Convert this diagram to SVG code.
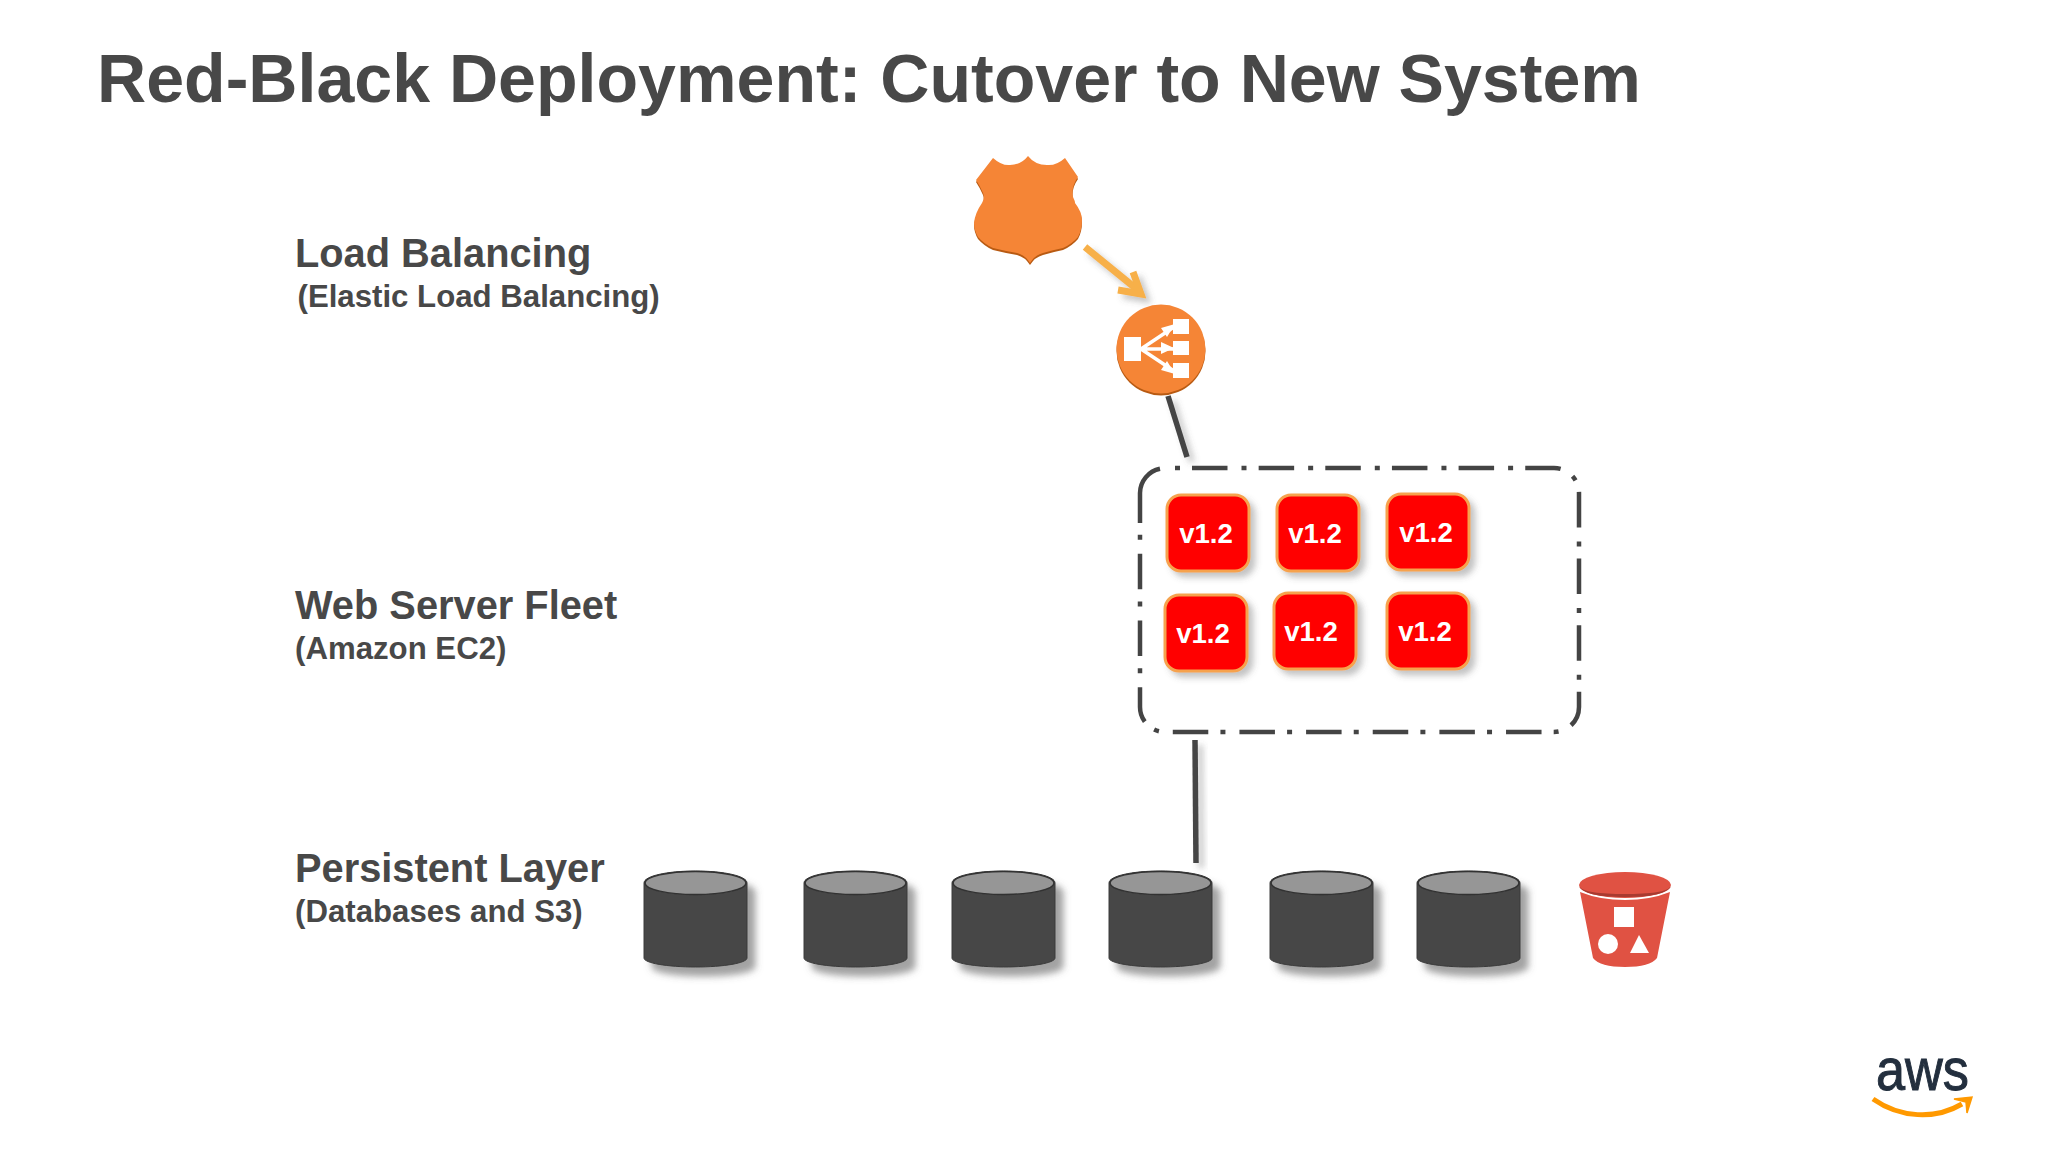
<svg xmlns="http://www.w3.org/2000/svg" width="2048" height="1152" viewBox="0 0 2048 1152">
<style>
text{font-family:"Liberation Sans",Arial,sans-serif;font-weight:700;fill:#484848}
.h{font-size:39.800px}.s{font-size:31.200px}
.v{font-size:27.600px;fill:#fff;text-anchor:middle}
.sq{fill:#f00;stroke:#f6a24e;stroke-width:3}
.cb{fill:#464646;stroke:#3c3c3c;stroke-width:1}
.ct{fill:#969696;stroke:#333;stroke-width:1.500}
.w{fill:#fff}
</style>
<defs>
<filter id="sh" x="-20%" y="-20%" width="150%" height="150%"><feDropShadow dx="8" dy="9" stdDeviation="3.500" flood-color="#555" flood-opacity=".55"/></filter>
<filter id="shl" x="-30%" y="-30%" width="170%" height="170%"><feDropShadow dx="5" dy="5" stdDeviation="3" flood-color="#555" flood-opacity=".35"/></filter>
<g id="cyl"><path class="cb" d="M0 0C0-7 23-12 51.500-12S103-7 103 0V75C103 80 80 84 51.500 84S0 80 0 75Z"/><ellipse class="ct" cx="51.500" cy="0" rx="50.500" ry="11.500"/></g>
<g id="srv"><rect class="sq" x="0" y="0" width="82" height="76" rx="14"/></g>
</defs>
<rect width="2048" height="1152" fill="#fff"/>
<text id="title" x="97" y="102" style="font-size:68.100px">Red-Black Deployment: Cutover to New System</text>
<g id="labels">
<text class="h" x="295" y="267">Load Balancing</text><text class="s" x="297.500" y="307">(Elastic Load Balancing)</text>
<text class="h" x="295" y="619">Web Server Fleet</text><text class="s" x="295" y="659">(Amazon EC2)</text>
<text class="h" x="295" y="882">Persistent Layer</text><text class="s" x="295" y="922">(Databases and S3)</text>
</g>
<g id="connectors">
<g fill="none" stroke="#f7b04a" stroke-width="7" filter="url(#shl)"><path d="M1085 247L1139 291"/><path d="M1133 272L1141 294L1118 290"/></g>
<g fill="none" stroke="#444" stroke-width="5.500" filter="url(#shl)"><path d="M1168 396L1187 457"/><path d="M1195 740L1196 863"/></g>
</g>
<g id="gateway" ><path fill="#b85a12" transform="translate(0 2)" d="M993 158Q1002 166 1010 165Q1021 165 1028 156Q1035 165 1047 165Q1056 166 1065 158L1078 177Q1071 187 1073 197Q1075 201 1075 203Q1082 212 1082 220Q1082 230 1078 237Q1072 244 1063 248Q1053 250 1043 253Q1035 255 1030 263Q1025 255 1017 253Q1005 251 993 248Q984 244 978 237Q974 230 974 223Q975 213 982 203Q985 198 983 193Q980 186 976 180Z"/><path fill="#f58536" d="M993 158Q1002 166 1010 165Q1021 165 1028 156Q1035 165 1047 165Q1056 166 1065 158L1078 177Q1071 187 1073 197Q1075 201 1075 203Q1082 212 1082 220Q1082 230 1078 237Q1072 244 1063 248Q1053 250 1043 253Q1035 255 1030 263Q1025 255 1017 253Q1005 251 993 248Q984 244 978 237Q974 230 974 223Q975 213 982 203Q985 198 983 193Q980 186 976 180Z"/></g>
<g id="elb">
<circle cx="1161" cy="351" r="44.500" fill="#b85a12"/><circle cx="1161" cy="349" r="44.500" fill="#f58536"/>
<rect class="w" x="1124" y="337" width="17" height="24"/><rect class="w" x="1173" y="319" width="16" height="15"/><rect class="w" x="1173" y="341" width="16" height="14"/><rect class="w" x="1173" y="363" width="16" height="15"/>
<path d="M1141 349L1174 327M1141 349H1174M1141 349L1174 371" stroke="#fff" stroke-width="3.500" fill="none"/>
<path class="w" d="M1175 324L1161 328L1167 337ZM1174 348L1161 342V354ZM1175 374L1167 361L1161 370Z"/>
</g>
<g id="fleet" fill="none" stroke="#444" stroke-width="4.500"><path stroke-dasharray="35.500 14 5 12.150" d="M1192 468H1554A25 25 0 0 1 1579 493V707A25 25 0 0 1 1554 732H1165A25 25 0 0 1 1140 707V523"/><path d="M1140 523V493A25 25 0 0 1 1160 468.800"/><path d="M1175 468H1180"/></g>
<g id="s1" filter="url(#shl)"><use href="#srv" x="1167" y="495"/></g><text class="v" x="1206" y="543">v1.2</text>
<g id="s2" filter="url(#shl)"><use href="#srv" x="1277" y="495"/></g><text class="v" x="1315" y="543">v1.2</text>
<g id="s3" filter="url(#shl)"><use href="#srv" x="1387" y="494"/></g><text class="v" x="1426" y="542">v1.2</text>
<g id="s4" filter="url(#shl)"><use href="#srv" x="1165" y="595"/></g><text class="v" x="1203" y="643">v1.2</text>
<g id="s5" filter="url(#shl)"><use href="#srv" x="1274" y="593"/></g><text class="v" x="1311" y="641">v1.2</text>
<g id="s6" filter="url(#shl)"><use href="#srv" x="1387" y="593"/></g><text class="v" x="1425" y="641">v1.2</text>
<g id="db1" filter="url(#sh)"><use href="#cyl" x="644" y="883"/></g>
<g id="db2" filter="url(#sh)"><use href="#cyl" x="804" y="883"/></g>
<g id="db3" filter="url(#sh)"><use href="#cyl" x="952" y="883"/></g>
<g id="db4" filter="url(#sh)"><use href="#cyl" x="1109" y="883"/></g>
<g id="db5" filter="url(#sh)"><use href="#cyl" x="1270" y="883"/></g>
<g id="db6" filter="url(#sh)"><use href="#cyl" x="1417" y="883"/></g>
<g id="s3b">
<path fill="#e05243" d="M1580 892L1593 958Q1600 967 1625 967Q1650 967 1657 958L1670 892Q1650 900 1625 900Q1600 900 1580 892Z"/>
<ellipse cx="1625" cy="885" rx="46" ry="13" fill="#e05243"/><path d="M1579 886C1582 894 1600 897 1625 897S1668 894 1671 886C1668 892 1650 894 1625 894S1582 892 1579 886Z" fill="#a83a30"/>
<rect class="w" x="1614" y="907" width="20" height="20"/><circle class="w" cx="1608" cy="944" r="10"/><path class="w" d="M1639 935L1630 953H1649Z"/>
</g>
<g id="aws"><text x="1876" y="1090" textLength="93" lengthAdjust="spacingAndGlyphs" style="font-size:60px;font-weight:400;fill:#232f3e;stroke:#232f3e;stroke-width:1">aws</text>
<path d="M1873 1099C1900 1118 1935 1120 1962 1104" fill="none" stroke="#f90" stroke-width="5"/><path d="M1954 1099L1972 1097L1967 1113L1966 1102Z" fill="#f90" stroke="#f90" stroke-width="1.500"/></g>
</svg>
